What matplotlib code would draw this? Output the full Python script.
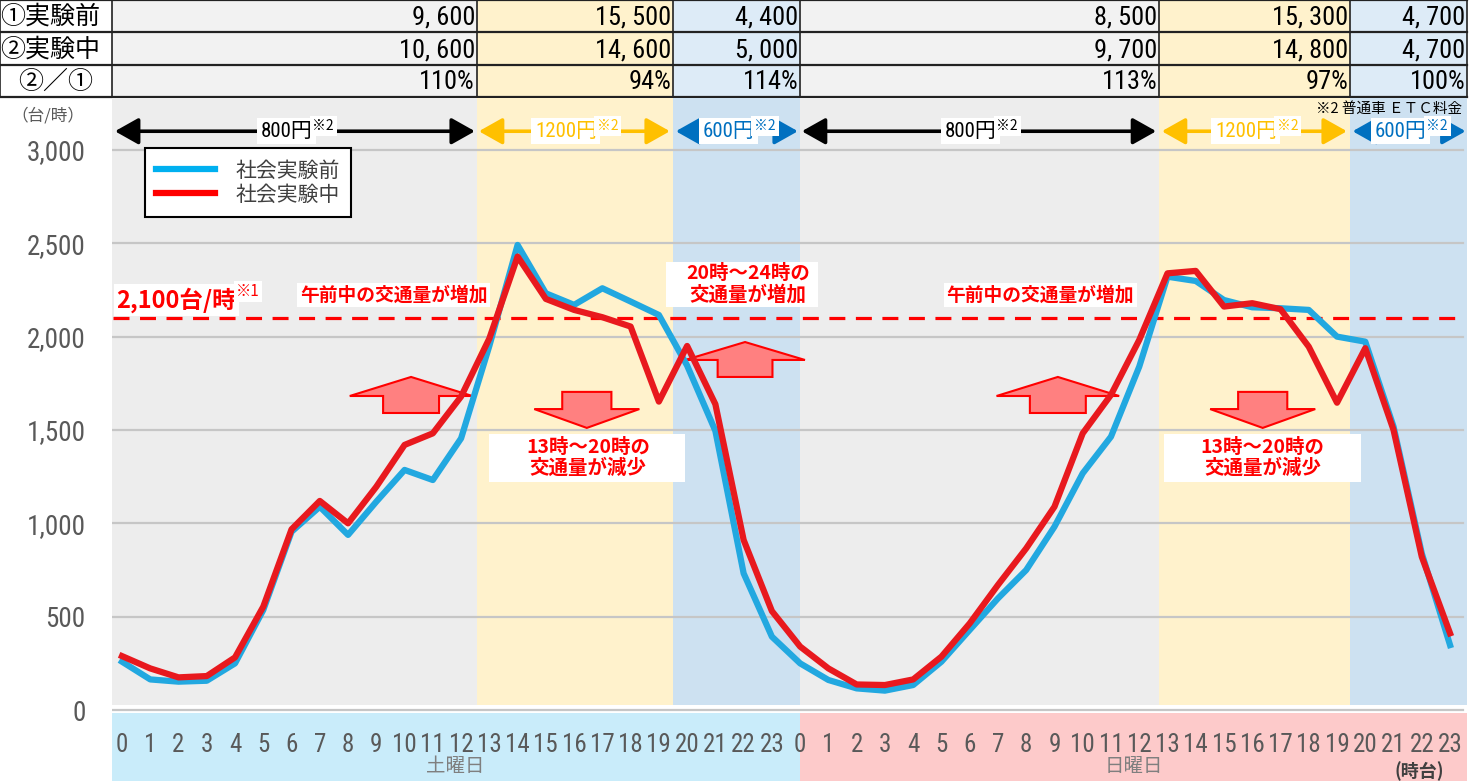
import matplotlib
matplotlib.use("Agg")
from matplotlib import pyplot as plt
from matplotlib import font_manager as fm
from matplotlib.patches import Rectangle, Polygon
from matplotlib.lines import Line2D

# データ（時間帯別交通量、台/時）
hours = list(range(24))
sat_before = [259, 164, 152, 157, 250, 536, 955, 1089, 938, 1116, 1286, 1232,
              1455, 1950, 2491, 2232, 2170, 2259, 2188, 2116, 1845, 1495, 732, 393]
sat_during = [289, 223, 175, 182, 282, 554, 968, 1120, 1000, 1196, 1420, 1482,
              1679, 1990, 2429, 2202, 2143, 2104, 2054, 1652, 1950, 1638, 911, 530]
sun_before = [250, 161, 116, 104, 134, 259, 429, 598, 750, 982, 1268, 1464,
              1839, 2321, 2298, 2196, 2157, 2152, 2143, 2000, 1973, 1518, 839, 348]
sun_during = [340, 223, 137, 134, 164, 286, 464, 670, 866, 1089, 1482, 1688,
              1982, 2339, 2352, 2161, 2179, 2147, 1946, 1646, 1938, 1500, 821, 411]
threshold = 2100

# 上の表
row_labels = ["①実験前", "②実験中", "②／①"]
table_before = [9600, 15500, 4400, 8500, 15300, 4700]
table_during = [10600, 14600, 5000, 9700, 14800, 4700]
table_ratio = [110, 94, 114, 113, 97, 100]
prices = ["800円", "1200円", "600円", "800円", "1200円", "600円"]
day_labels = ["土曜日", "日曜日"]
yticks = [0, 500, 1000, 1500, 2000, 2500, 3000]


def pick_font(names):
    for n in names:
        try:
            fm.findfont(fm.FontProperties(family=n), fallback_to_default=False)
            return n
        except ValueError:
            pass
    return "DejaVu Sans"


NARROW = pick_font(["Liberation Sans Narrow", "Roboto Condensed", "Open Sans Condensed",
                    "Liberation Sans"])
JP = "Noto Sans CJK JP"
MIX = [NARROW, JP]

W, H = 1475, 781
RED = "#E8191E"
BLUE = "#22A8E0"

# 区間の境界（時台の位置）
edges = [-0.354, 12.55, 19.5, 24.0, 36.7, 43.45, 47.6]
shade_colors = ["#EDEDED", "#FFF2CC", "#CDE1F1", "#EDEDED", "#FFF2CC", "#CDE1F1"]
table_colors = ["#F2F2F2", "#FFF2CC", "#DDEBF7", "#F2F2F2", "#FFF2CC", "#DDEBF7"]
price_colors = ["#000000", "#FFC000", "#0070C0", "#000000", "#FFC000", "#0070C0"]

fig = plt.figure(figsize=(W / 100, H / 100), dpi=100)

# ---- 表 ----
tax = fig.add_axes([0, 1 - 97 / H, 1467 / W, 97 / H])
tax.set_xlim(-0.354 - 112 / 28.256, 47.6)
tax.set_ylim(3, 0)
tax.axis("off")
col_edges = [-0.354 - 112 / 28.256] + edges
for k in range(6):
    tax.add_patch(Rectangle((col_edges[k + 1], 0), col_edges[k + 2] - col_edges[k + 1], 3,
                            facecolor=table_colors[k], edgecolor="none", zorder=0))
for r in range(4):
    tax.plot([col_edges[0], col_edges[-1]], [r, r], color="#222222", lw=1.6, clip_on=False)
for e in col_edges:
    tax.plot([e, e], [0, 3], color="#222222", lw=1.2, clip_on=False)
rows = [
    [f"{v:,}".replace(",", ", ") for v in table_before],
    [f"{v:,}".replace(",", ", ") for v in table_during],
    [f"{v}%" for v in table_ratio],
]
for r in range(3):
    if r < 2:
        tax.text(col_edges[0] + 0.02, r + 0.52, row_labels[r], ha="left", va="center",
                 fontsize=18, family=JP)
    else:
        tax.text((col_edges[0] + col_edges[1]) / 2, r + 0.52, row_labels[r], ha="center",
                 va="center", fontsize=18, family=JP)
    for k in range(6):
        tax.text(col_edges[k + 2] - 0.06, r + 0.55, rows[r][k], ha="right", va="center",
                 fontsize=19, family=MIX)

# ---- グラフ ----
ax = fig.add_axes([112 / W, 0, 1355 / W, 683 / H])
ymin, ymax = -380, 3278
ax.set_xlim(edges[0], edges[-1])
ax.set_ylim(ymin, ymax)
for s in ax.spines.values():
    s.set_visible(False)

for k in range(6):
    ax.add_patch(Rectangle((edges[k], 25), edges[k + 1] - edges[k], ymax - 25,
                           facecolor=shade_colors[k], edgecolor="none", zorder=0))
ax.add_patch(Rectangle((edges[0], ymin), edges[3] - edges[0], -15 - ymin,
                       facecolor="#C9ECFA", edgecolor="none", zorder=0))
ax.add_patch(Rectangle((edges[3], ymin), edges[6] - edges[3], -15 - ymin,
                       facecolor="#FDCACA", edgecolor="none", zorder=0))

for v in yticks:
    ax.plot([edges[0], edges[-1] - 0.15], [v, v], color="#C6C6C6", lw=1.6, zorder=1)

ax.set_xticks([])
ax.set_yticks(yticks)
ax.set_yticklabels([f"{v:,}" for v in yticks], fontsize=19.5, family=NARROW, color="#595959")
ax.tick_params(axis="y", length=0, pad=19)

x_all = list(range(48))
before = sat_before + sun_before
during = sat_during + sun_during
ax.plot([edges[0] + 0.05, 47.2], [threshold, threshold], color="#FF0000", lw=2.3,
        linestyle=(0, (5, 3.3)), zorder=2)
ax.plot(x_all, before, color=BLUE, lw=4.5, zorder=4, solid_joinstyle="round")
ax.plot(x_all, during, color=RED, lw=4.5, zorder=5, solid_joinstyle="round")

# 時台ラベル
for i, h in enumerate(hours + hours):
    ax.text(i, -187, str(h), ha="center", va="center", fontsize=18, family=NARROW,
            color="#595959")
ax.text(11.8, -300, day_labels[0], ha="center", va="center", fontsize=14, family=JP,
        color="#7F7F7F")
ax.text(35.8, -300, day_labels[1], ha="center", va="center", fontsize=14, family=JP,
        color="#7F7F7F")
ax.text(45.9, -325, "(時台)", ha="center", va="center", fontsize=13, family=JP,
        fontweight="bold", color="#404040")

# 料金の矢印
price_y = 3100
arrow_spans = [(-0.25, 12.49), (12.63, 19.39), (19.6, 23.92),
               (24.06, 36.6), (36.8, 43.35), (43.55, 47.55)]
for (x0, x1), label, c in zip(arrow_spans, prices, price_colors):
    ax.annotate("", xy=(x1, price_y), xytext=(x0, price_y),
                arrowprops=dict(arrowstyle="<|-|>,head_length=0.8,head_width=0.45",
                                color=c, lw=2.6, mutation_scale=18, shrinkA=0, shrinkB=0),
                zorder=6)
    cx = (x0 + x1) / 2 - 0.3
    t = ax.text(cx, price_y, label, ha="center", va="center", fontsize=15, family=MIX,
                color=c, zorder=7, bbox=dict(fc="white", ec="none", pad=2.5))
    ax.annotate("※2", xy=(1, 0.42), xycoords=t, ha="left", va="bottom", fontsize=10,
                family=JP, color=c, zorder=7, bbox=dict(fc="white", ec="none", pad=2))
ax.text(44.85, 3218, "※2 普通車 ＥＴＣ料金", ha="center", va="center", fontsize=10.5,
        family=JP, color="black", zorder=8)

# 凡例
handles = [Line2D([], [], color="#00B0F0", lw=4.5), Line2D([], [], color="#FF0000", lw=4.5)]
leg = ax.legend(handles, ["社会実験前", "社会実験中"], loc="upper left",
                bbox_to_anchor=(33 / 1355, (781 - 148) / 683), borderaxespad=0,
                prop=fm.FontProperties(family=JP, size=15), frameon=True, fancybox=False,
                framealpha=1, edgecolor="black", handlelength=2.8, handletextpad=1.0,
                borderpad=0.55, labelspacing=0.1)
leg.get_frame().set_linewidth(1.5)
for txt in leg.get_texts():
    txt.set_color("#404040")
leg.set_zorder(8)

# 2,100台/時
t = ax.text(-0.2, 2196, "2,100台/時", ha="left", va="center", fontsize=17, family=JP,
            fontweight="bold", color="#FF0000", zorder=7,
            bbox=dict(fc="white", ec="none", pad=2))
ax.annotate("※1", xy=(1, 0.5), xycoords=t, ha="left", va="bottom", fontsize=11,
            family=JP, color="#FF0000", zorder=7, bbox=dict(fc="white", ec="none", pad=1.5))

for cx in (9.62, 32.5):
    ax.text(cx, 2223, "午前中の交通量が増加", ha="center", va="center", fontsize=13.5,
            family=JP, fontweight="bold", color="#FF0000", zorder=7,
            bbox=dict(fc="white", ec="none", pad=2))

ax.add_patch(Rectangle((19.25, 2159), 5.38, 241, facecolor="white", edgecolor="none",
                       zorder=6))
ax.text(22.15, 2280, "20時～24時の\n交通量が増加", ha="center", va="center", fontsize=14,
        family=JP, fontweight="bold", color="#FF0000", zorder=7, linespacing=1.15)

for x0, x1, cx in ((12.99, 19.92, 16.5), (36.87, 43.84, 40.36)):
    ax.add_patch(Rectangle((x0, 1221), x1 - x0, 258, facecolor="white", edgecolor="none",
                           zorder=6))
    ax.text(cx, 1350, "13時～20時の\n交通量が減少", ha="center", va="center", fontsize=14,
            family=JP, fontweight="bold", color="#FF0000", zorder=7, linespacing=1.15)


def block_arrow(cx, tip, base, end, head_w, body_w):
    pts = [(cx, tip), (cx + head_w, base), (cx + body_w, base), (cx + body_w, end),
           (cx - body_w, end), (cx - body_w, base), (cx - head_w, base)]
    ax.add_patch(Polygon(pts, closed=True, facecolor="#FF8080", edgecolor="#FF0000",
                         lw=1.5, zorder=3))


block_arrow(10.23, 1784, 1682, 1591, 2.17, 0.99)
block_arrow(22.05, 1971, 1875, 1784, 2.12, 0.97)
block_arrow(33.12, 1784, 1682, 1591, 2.17, 0.99)
block_arrow(16.45, 1511, 1612, 1704, 1.86, 0.87)
block_arrow(40.37, 1511, 1612, 1704, 1.86, 0.87)

fig.text(48 / W, 1 - 116 / H, "（台/時）", ha="center", va="center", fontsize=12,
         family=JP, color="#595959")

fig.savefig("out.png", dpi=100)
